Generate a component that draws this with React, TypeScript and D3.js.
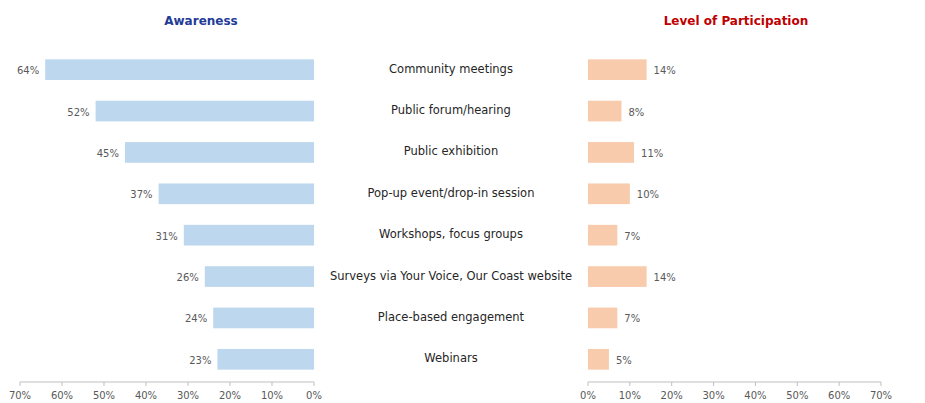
import { useMemo } from "react";
import * as d3 from "d3";

const CATEGORIES = [
  "Community meetings",
  "Public forum/hearing",
  "Public exhibition",
  "Pop-up event/drop-in session",
  "Workshops, focus groups",
  "Surveys via Your Voice, Our Coast website",
  "Place-based engagement",
  "Webinars",
];
const AWARENESS = [64, 52, 45, 37, 31, 26, 24, 23];
const PARTICIPATION = [14, 8, 11, 10, 7, 14, 7, 5];
const TICKS = [0, 10, 20, 30, 40, 50, 60, 70];

const WIDTH = 925;
const HEIGHT = 403;
const FONT = "'DejaVu Sans', sans-serif";
const AXIS_Y = 382;

export default function App() {
  const yScale = useMemo(
    () => d3.scaleBand<string>().domain(CATEGORIES).range([49, 380]).paddingInner(0.5).paddingOuter(0.25),
    []
  );
  const xLeft = useMemo(() => d3.scaleLinear().domain([0, 70]).range([314, 20]), []);
  const xRight = useMemo(() => d3.scaleLinear().domain([0, 70]).range([588, 881]), []);
  const bh = yScale.bandwidth();

  return (
    <svg
      width={WIDTH}
      height={HEIGHT}
      style={{ position: "absolute", left: 0, top: 0, background: "#fff" }}
      fontFamily={FONT}
    >
      {/* titles */}
      <text x={201} y={25} textAnchor="middle" fill="#1f3c98" fontWeight="bold" fontSize={12}>
        Awareness
      </text>
      <text x={736} y={25} textAnchor="middle" fill="#c00000" fontWeight="bold" fontSize={12}>
        Level of Participation
      </text>

      {CATEGORIES.map((c, i) => {
        const y = yScale(c)!;
        const cy = y + bh / 2;
        const a = AWARENESS[i];
        const p = PARTICIPATION[i];
        return (
          <g key={c}>
            <rect x={xLeft(a)} y={y} width={xLeft(0) - xLeft(a)} height={bh} fill="#bdd7ee" />
            <text x={xLeft(a) - 6} y={cy + 1} dy="0.35em" textAnchor="end" fill="#595959" fontSize={10}>
              {a}%
            </text>
            <text x={451} y={cy - 1} dy="0.35em" textAnchor="middle" fill="#262626" fontSize={11.5}>
              {c}
            </text>
            <rect x={xRight(0)} y={y} width={xRight(p) - xRight(0)} height={bh} fill="#f8cbad" />
            <text x={xRight(p) + 7} y={cy + 1} dy="0.35em" textAnchor="start" fill="#595959" fontSize={10}>
              {p}%
            </text>
          </g>
        );
      })}

      {/* left axis */}
      <line x1={xLeft(70)} x2={xLeft(0)} y1={AXIS_Y} y2={AXIS_Y} stroke="#bfbfbf" />
      {TICKS.map((t) => (
        <g key={"l" + t}>
          <line x1={xLeft(t)} x2={xLeft(t)} y1={AXIS_Y} y2={AXIS_Y + 4} stroke="#bfbfbf" />
          <text x={xLeft(t)} y={AXIS_Y + 13} dy="0.35em" textAnchor="middle" fill="#595959" fontSize={10}>
            {t}%
          </text>
        </g>
      ))}

      {/* right axis */}
      <line x1={xRight(0)} x2={xRight(70)} y1={AXIS_Y} y2={AXIS_Y} stroke="#bfbfbf" />
      {TICKS.map((t) => (
        <g key={"r" + t}>
          <line x1={xRight(t)} x2={xRight(t)} y1={AXIS_Y} y2={AXIS_Y + 4} stroke="#bfbfbf" />
          <text x={xRight(t)} y={AXIS_Y + 13} dy="0.35em" textAnchor="middle" fill="#595959" fontSize={10}>
            {t}%
          </text>
        </g>
      ))}
    </svg>
  );
}
